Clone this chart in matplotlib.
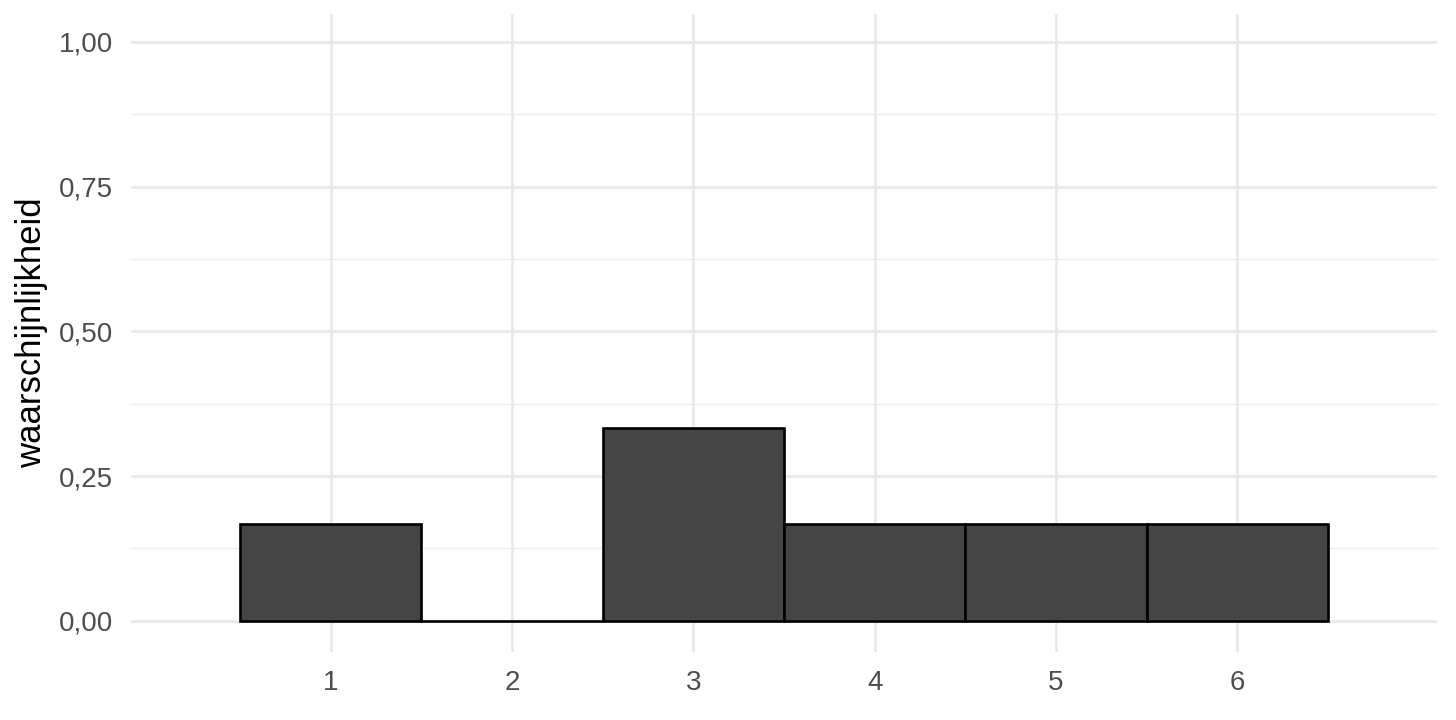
import matplotlib
matplotlib.use("Agg")
import matplotlib.pyplot as plt
from matplotlib.ticker import FixedLocator

# data
uitkomsten = [1, 2, 3, 4, 5, 6]
waarschijnlijkheid = [1/6, 0.0, 1/3, 1/6, 1/6, 1/6]
y_ticks = [0.0, 0.25, 0.5, 0.75, 1.0]
y_ticklabels = ["0,00", "0,25", "0,50", "0,75", "1,00"]
y_minor = [0.125, 0.375, 0.625, 0.875]
y_label = "waarschijnlijkheid"

plt.rcParams['font.family'] = ['Liberation Sans', 'DejaVu Sans']

fig = plt.figure(figsize=(14.56, 7.2), dpi=100)
ax = fig.add_axes([131/1456, 68/720, (1437-131)/1456, (652-14)/720])

ax.bar(uitkomsten, waarschijnlijkheid, width=1.0, color="#454545",
       edgecolor="black", linewidth=1.9, zorder=3)

ax.set_xlim(-0.1, 7.1)
ax.set_ylim(-0.054, 1.048)
ax.set_xticks(uitkomsten)
ax.set_xticklabels([str(u) for u in uitkomsten])
ax.set_yticks(y_ticks)
ax.set_yticklabels(y_ticklabels)
ax.yaxis.set_minor_locator(FixedLocator(y_minor))

ax.grid(True, which="major", color="#E8E8E8", linewidth=1.9, zorder=0)
ax.grid(True, which="minor", axis="y", color="#EBEBEB", linewidth=0.9, zorder=0)
ax.set_axisbelow(True)

for s in ax.spines.values():
    s.set_visible(False)
ax.tick_params(axis="both", which="both", length=0, labelsize=20,
               labelcolor="#4D4D4D", pad=13)
ax.set_ylabel(y_label, fontsize=25, color="black", labelpad=8)

fig.savefig("out.png", dpi=100, facecolor="white")
